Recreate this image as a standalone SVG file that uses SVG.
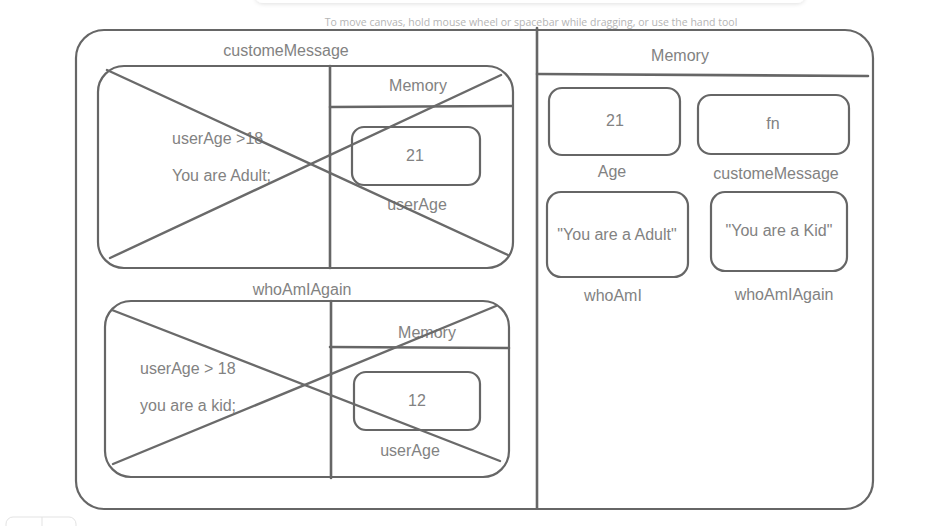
<svg xmlns="http://www.w3.org/2000/svg" width="947" height="526" viewBox="0 0 947 526">
<defs>
<filter id="sh" x="-5%" y="-100%" width="110%" height="400%"><feDropShadow dx="0" dy="1" stdDeviation="2" flood-color="#000" flood-opacity="0.12"/></filter>
</defs>
<style>
.t{font-family:"Liberation Sans",Arial,sans-serif;font-size:16px;fill:#828282;text-anchor:middle}
.tl{font-family:"Liberation Sans",Arial,sans-serif;font-size:16px;fill:#828282}
.b{fill:none;stroke:#666;stroke-width:2.2;stroke-linejoin:round}
.ln{fill:none;stroke:#666;stroke-width:2.6;stroke-linecap:round}
.x{fill:none;stroke:#6a6a6a;stroke-width:2.4;stroke-linecap:round}
.hint{font-family:"Open Sans","Liberation Sans",sans-serif;font-size:10.5px;fill:#b5b5b5;text-anchor:middle}
</style>
<rect width="947" height="526" fill="#fff"/>
<rect x="255" y="-12" width="550" height="15" rx="8" fill="#fff" filter="url(#sh)"/>
<text class="hint" x="531" y="26">To move canvas, hold mouse wheel or spacebar while dragging, or use the hand tool</text>
<rect x="6" y="517" width="70" height="20" rx="7" fill="#fff" stroke="#e3e3e3" stroke-width="1"/>
<line x1="42" y1="517" x2="42" y2="526" stroke="#e3e3e3" stroke-width="1"/>

<g id="outer">
<rect class="b" x="76" y="30" width="797" height="479" rx="28"/>
<line class="ln" x1="537" y1="28" x2="537" y2="508"/>
<line class="ln" x1="537" y1="74" x2="868" y2="76"/>
<text class="t" x="680" y="61">Memory</text>
</g>

<g id="customeMessage">
<text class="t" x="286" y="56">customeMessage</text>
<rect class="b" x="98" y="66" width="415" height="202" rx="26"/>
<line class="ln" x1="330" y1="66" x2="330" y2="268"/>
<line class="ln" x1="330" y1="107" x2="512" y2="106"/>
<text class="t" x="418" y="91">Memory</text>
<rect class="b" x="352" y="127" width="128" height="58" rx="12"/>
<text class="t" x="415" y="161">21</text>
<text class="t" x="417" y="210">userAge</text>
<text class="tl" x="172" y="144">userAge &gt;18</text>
<text class="tl" x="172" y="181">You are Adult;</text>
<line class="x" x1="107" y1="70" x2="508" y2="255"/>
<line class="x" x1="110" y1="258" x2="501" y2="75"/>
</g>

<g id="whoAmIAgain">
<text class="t" x="302" y="295">whoAmIAgain</text>
<rect class="b" x="105" y="301" width="404" height="176" rx="26"/>
<line class="ln" x1="331" y1="301" x2="331" y2="478"/>
<line class="ln" x1="330" y1="347" x2="509" y2="348"/>
<text class="t" x="427" y="338">Memory</text>
<rect class="b" x="354" y="372" width="126" height="58" rx="12"/>
<text class="t" x="417" y="406">12</text>
<text class="t" x="410" y="456">userAge</text>
<text class="tl" x="140" y="374">userAge &gt; 18</text>
<text class="tl" x="140" y="411">you are a kid;</text>
<line class="x" x1="112" y1="310" x2="500" y2="461"/>
<line class="x" x1="113" y1="464" x2="496" y2="306"/>
</g>

<g id="age">
<rect class="b" x="549" y="88" width="131" height="67" rx="13"/>
<text class="t" x="615" y="126">21</text>
<text class="t" x="612" y="177">Age</text>
</g>
<g id="fn">
<rect class="b" x="698" y="95" width="151" height="59" rx="13"/>
<text class="t" x="773" y="129">fn</text>
<text class="t" x="776" y="179">customeMessage</text>
</g>
<g id="whoAmI">
<rect class="b" x="547" y="192" width="141" height="85" rx="14"/>
<text class="t" x="617" y="240">"You are a Adult"</text>
<text class="t" x="613" y="301">whoAmI</text>
</g>
<g id="whoAmIAgainMem">
<rect class="b" x="711" y="192" width="136" height="79" rx="14"/>
<text class="t" x="779" y="236">"You are a Kid"</text>
<text class="t" x="784" y="300">whoAmIAgain</text>
</g>
<g id="connectors"></g>
</svg>
